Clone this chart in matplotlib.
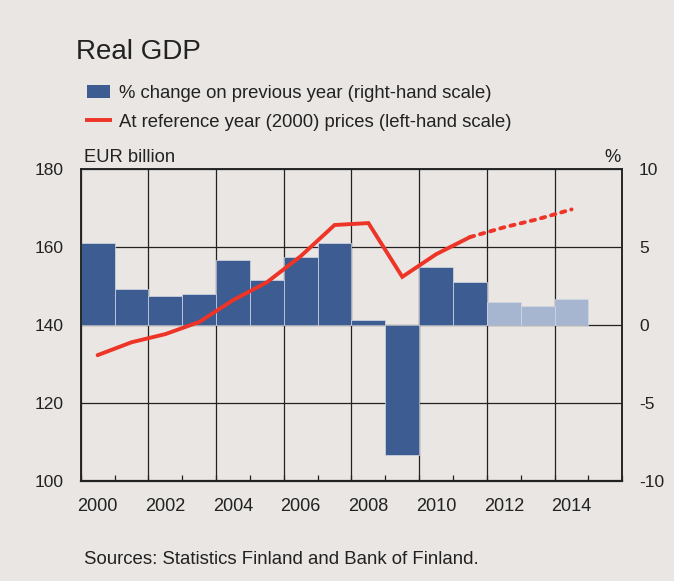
import matplotlib.pyplot as plt
from matplotlib.patches import Patch
from matplotlib.lines import Line2D

plt.rcParams['font.family'] = ['Liberation Sans', 'DejaVu Sans']
plt.rcParams['axes.unicode_minus'] = False

# % change on previous year (right-hand scale)
years = list(range(2000, 2015))
pct_change = [5.3, 2.3, 1.9, 2.0, 4.2, 2.9, 4.4, 5.3, 0.3, -8.3, 3.7, 2.8, 1.5, 1.2, 1.7]
forecast_start = 2012

# Real GDP at 2000 prices, EUR billion (left-hand scale)
gdp_level = [132.3, 135.6, 137.7, 140.8, 146.4, 151.0, 157.7, 165.7, 166.2,
             152.4, 158.2, 162.6, 165.1, 167.2, 169.7]

left_ticks = [100, 120, 140, 160, 180]
right_ticks = [-10, -5, 0, 5, 10]
label_years = [2000, 2002, 2004, 2006, 2008, 2010, 2012, 2014]

bg = '#e9e6e3'
dark_blue = '#3c5c92'
light_blue = '#a6b5d0'
red = '#ee3427'
ink = '#222222'

fig = plt.figure(figsize=(6.74, 5.81), dpi=100)
fig.patch.set_facecolor(bg)
ax = fig.add_axes([0.1197, 0.1721, 0.8036, 0.5365])
ax.set_facecolor(bg)
ax2 = ax.twinx()

# bars on the bottom axes, percent scale shown on the right
bar_colors = [light_blue if y >= forecast_start else dark_blue for y in years]
ax.bar([y + 0.5 for y in years], pct_change, width=1.0, color=bar_colors,
       edgecolor='#d5dae4', linewidth=0.5, zorder=2)
ax.set_ylim(-10, 10)
ax.set_yticks(right_ticks)
ax.yaxis.tick_right()
ax.tick_params(axis='y', length=0, pad=12, labelsize=12.5, colors=ink)
ax.set_axisbelow(True)
ax.grid(axis='y', color=ink, linewidth=0.9)
for yr in range(2000, 2017, 2):
    ax.axvline(yr, color=ink, linewidth=0.9, zorder=1)

ax.set_xlim(2000, 2016)
ax.set_xticks(range(2000, 2017))
ax.set_xticklabels([])
ax.tick_params(axis='x', which='major', direction='in', length=4, width=0.9, color=ink)
ax.set_xticks([y + 0.5 for y in label_years], minor=True)
ax.set_xticklabels([str(y) for y in label_years], minor=True)
ax.tick_params(axis='x', which='minor', length=0, pad=12.5, labelsize=13.1, colors=ink)

# line on the twin axes, level scale shown on the left
split = years.index(forecast_start - 1) + 1
xs = [y + 0.5 for y in years]
ax2.plot(xs[:split], gdp_level[:split], color=red, linewidth=2.8,
         solid_capstyle='round', solid_joinstyle='miter', zorder=3)
ax2.plot(xs[split - 1:], gdp_level[split - 1:], color=red, linewidth=2.8,
         dashes=(1.1, 1.6), dash_capstyle='round', zorder=3)
ax2.set_ylim(100, 180)
ax2.set_yticks(left_ticks)
ax2.yaxis.tick_left()
ax2.tick_params(axis='y', length=0, pad=12, labelsize=12.5, colors=ink)

for a in (ax, ax2):
    for s in a.spines.values():
        s.set_color(ink)
        s.set_linewidth(1.1)
ax.spines['bottom'].set_linewidth(1.6)

fig.text(76 / 674, 1 - 59 / 581, 'Real GDP', fontsize=20, color=ink, va='baseline')
fig.text(84 / 674, 1 - 162 / 581, 'EUR billion', fontsize=13.2, color=ink, va='baseline')
fig.text(621 / 674, 1 - 162 / 581, '%', fontsize=13.2, color=ink, va='baseline', ha='right')
fig.text(84 / 674, 1 - 564 / 581, 'Sources: Statistics Finland and Bank of Finland.',
         fontsize=13.4, color=ink, va='baseline')

handles = [Patch(facecolor=dark_blue, edgecolor='none'),
           Line2D([], [], color=red, linewidth=2.8)]
labels = ['% change on previous year (right-hand scale)',
          'At reference year (2000) prices (left-hand scale)']
fig.legend(handles, labels, loc='upper left', bbox_to_anchor=(87 / 674, 1 - 85 / 581),
           frameon=False, fontsize=13.3, handlelength=1.25, handletextpad=0.5,
           labelspacing=0.63, borderpad=0, borderaxespad=0, labelcolor=ink)

fig.savefig('out.png', dpi=100, facecolor=bg)
